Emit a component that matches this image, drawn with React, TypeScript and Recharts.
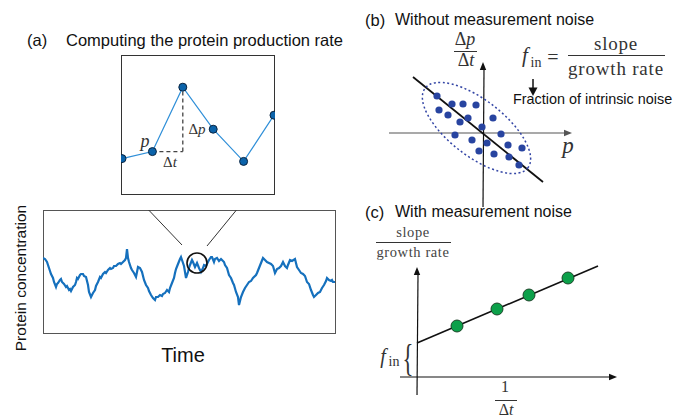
import { ComposedChart, Line, Scatter, XAxis, YAxis, ReferenceLine, ReferenceDot } from "recharts";

// (a) inset: sampled points of the trace
const insetTime = [0, 1, 2, 3, 4, 5];
const insetConc = [2.6, 3.1, 7.7, 4.7, 2.4, 5.7];

// (a) protein concentration trace [time, concentration]
const trace: [number, number][] = [
  [0, 75], [2, 74], [4, 71], [5, 68], [7, 62], [8, 59], [10, 55], [11, 51], [13, 46], [14, 49],
  [15, 50], [17, 53], [18, 54], [19, 51], [21, 49], [23, 46], [24, 47], [26, 43], [27, 44], [28, 42],
  [30, 46], [32, 48], [33, 51], [34, 55], [35, 54], [37, 58], [38, 59], [40, 59], [41, 57], [43, 56],
  [44, 52], [45, 48], [46, 41], [48, 36], [49, 38], [50, 40], [52, 43], [53, 47], [55, 51], [57, 56],
  [58, 55], [60, 59], [62, 61], [63, 60], [65, 63], [67, 65], [68, 64], [70, 65], [71, 67], [73, 67],
  [75, 69], [77, 70], [78, 69], [80, 71], [82, 73], [83, 75], [84, 84], [85, 75], [86, 71], [88, 65],
  [89, 63], [91, 60], [93, 56], [94, 61], [95, 66], [97, 65], [99, 61], [100, 57], [101, 53], [103, 48],
  [105, 45], [106, 42], [108, 38], [110, 35], [112, 33], [113, 36], [115, 36], [117, 38], [119, 37], [120, 39],
  [122, 40], [124, 43], [126, 41], [127, 45], [129, 50], [131, 55], [132, 60], [133, 64], [135, 69], [137, 74],
  [138, 76], [139, 73], [141, 67], [142, 61], [143, 55], [145, 61], [146, 65], [147, 68], [149, 73], [150, 71],
  [152, 66], [154, 70], [156, 65], [158, 61], [160, 65], [161, 68], [163, 67], [165, 71], [166, 73], [168, 76],
  [169, 76], [171, 71], [172, 74], [174, 75], [176, 72], [178, 74], [179, 73], [181, 71], [182, 68], [184, 65],
  [186, 58], [188, 55], [190, 50], [191, 48], [193, 41], [195, 36], [196, 28], [198, 36], [200, 41], [202, 45],
  [204, 48], [206, 51], [208, 52], [210, 55], [213, 58], [214, 60], [216, 65], [218, 70], [220, 75], [222, 73],
  [224, 71], [226, 70], [228, 69], [230, 67], [232, 60], [234, 64], [236, 65], [238, 67], [240, 71], [242, 67],
  [244, 65], [245, 68], [247, 73], [249, 72], [252, 74], [254, 66], [256, 63], [258, 60], [260, 59], [262, 57],
  [264, 51], [266, 49], [268, 43], [270, 38], [271, 36], [273, 38], [275, 40], [277, 41], [279, 45], [281, 48],
  [283, 52], [284, 55], [286, 53], [288, 52], [289, 53], [290, 51], [292, 51],
];
const zoomSpot = { t: 154, c: 70 };

// (b) p vs dp/dt without measurement noise
const bP = [-4.6, -3.1, -2.0, -0.7, -4.4, -3.5, -1.5, -2.3, 1.0, -0.1, -2.8, -1.1, 1.8, 0.4, 2.5, 3.9, -0.4, 1.1, 2.6, 3.6];
const bRate = [3.7, 2.9, 2.9, 2.8, 2.3, 1.8, 1.5, 1.1, 1.5, 0.6, -0.2, -0.7, -0.1, -1.0, -1.2, -1.5, -1.8, -2.1, -2.4, -3.2];
const bFit = [{ x: -7, y: 5.6 }, { x: 6, y: -4.9 }];
const bCloud = [{ x: -0.65, y: 0.5 }];

// (c) slope / growth rate vs 1/dt
const cInvDt = [4, 8, 11.2, 15.1];
const cRatio = [5.1, 6.8, 8.2, 9.9];
const cFit = [{ x: 0, y: 3.4 }, { x: 18.1, y: 11.1 }];

const insetData = insetTime.map((t, i) => ({ t, p: insetConc[i] }));
const traceData = trace.map(([t, c]) => ({ t, c }));
const bData = bP.map((x, i) => ({ x, y: bRate[i] }));
const cData = cInvDt.map((x, i) => ({ x, y: cRatio[i] }));

const SANS = "'Liberation Sans', Arial, Helvetica, sans-serif";
const SERIF = "'Liberation Serif', 'Times New Roman', serif";

const ArrowLine = (props: any) => {
  const { x1, y1, x2, y2, stroke, strokeWidth } = props;
  const a = Math.atan2(y2 - y1, x2 - x1);
  const len = 8;
  const w = 3.2;
  const bx = x2 - len * Math.cos(a);
  const by = y2 - len * Math.sin(a);
  const pts = `${x2},${y2} ${bx - w * Math.sin(a)},${by + w * Math.cos(a)} ${bx + w * Math.sin(a)},${by - w * Math.cos(a)}`;
  return (
    <g>
      <line x1={x1} y1={y1} x2={bx + 1} y2={by} stroke={stroke} strokeWidth={strokeWidth} />
      <polygon points={pts} fill={stroke} />
    </g>
  );
};

const Txt = ({ x, y, children, style, left }: any) => (
  <div
    style={{
      position: "absolute",
      left: x,
      top: y,
      transform: left ? "translate(0,-50%)" : "translate(-50%,-50%)",
      whiteSpace: "nowrap",
      lineHeight: 1,
      color: "#111",
      ...style,
    }}
  >
    {children}
  </div>
);

const Bar = ({ x1, x2, y }: any) => (
  <div style={{ position: "absolute", left: x1, top: y, width: x2 - x1, height: 1, background: "#333" }} />
);

export default function App() {
  return (
    <div style={{ position: "absolute", left: 0, top: 0, width: 695, height: 420, background: "#fff", fontFamily: SANS, overflow: "hidden" }}>
      {/* (a) titles */}
      <Txt x={27} y={40} left style={{ fontSize: 16.5 }}>(a)</Txt>
      <Txt x={66} y={40} left style={{ fontSize: 16.5 }}>Computing the protein production rate</Txt>

      {/* (a) inset */}
      <div style={{ position: "absolute", left: 121, top: 55, width: 154, height: 140, border: "1.2px solid #333", boxSizing: "border-box" }} />
      <div style={{ position: "absolute", left: 121, top: 55 }}>
        <ComposedChart width={154} height={140} data={insetData} margin={{ top: 0, right: 1, bottom: 0, left: 1 }}>
          <XAxis type="number" dataKey="t" domain={[0, 5]} hide />
          <YAxis type="number" domain={[0, 10]} hide />
          <ReferenceLine segment={[{ x: 1, y: 3.1 }, { x: 2, y: 3.1 }]} stroke="#444" strokeWidth={1.3} strokeDasharray="4 3" />
          <ReferenceLine segment={[{ x: 2, y: 3.1 }, { x: 2, y: 7.7 }]} stroke="#444" strokeWidth={1.3} strokeDasharray="4 3" />
          <Line
            dataKey="p"
            type="linear"
            stroke="#2f8fd8"
            strokeWidth={1.2}
            dot={{ r: 4, fill: "#0b63aa", stroke: "#0a2440", strokeWidth: 1 }}
            isAnimationActive={false}
          />
        </ComposedChart>
      </div>
      <Txt x={145} y={141} style={{ fontFamily: SERIF, fontStyle: "italic", fontSize: 18, color: "#333" }}>p</Txt>
      <Txt x={170} y={162} style={{ fontFamily: SERIF, fontSize: 15, color: "#333" }}>Δ<i>t</i></Txt>
      <Txt x={197} y={129} style={{ fontFamily: SERIF, fontSize: 15, color: "#333" }}>Δ<i>p</i></Txt>

      {/* (a) trace */}
      <div style={{ position: "absolute", left: 43, top: 210, width: 293, height: 124, border: "1px solid #555", boxSizing: "border-box" }} />
      <div style={{ position: "absolute", left: 43, top: 210 }}>
        <ComposedChart width={292} height={123} data={traceData} margin={{ top: 0, right: 0, bottom: 0, left: 0 }}>
          <XAxis type="number" dataKey="t" domain={[0, 292]} hide />
          <YAxis type="number" domain={[0, 123]} hide />
          <ReferenceLine segment={[{ x: 99, y: 130 }, { x: 139, y: 88 }]} stroke="#333" strokeWidth={1} ifOverflow="visible" />
          <ReferenceLine segment={[{ x: 200, y: 131 }, { x: 164, y: 87 }]} stroke="#333" strokeWidth={1} ifOverflow="visible" />
          <Line dataKey="c" type="linear" stroke="#1570bd" strokeWidth={2.2} dot={false} isAnimationActive={false} />
          <ReferenceDot x={zoomSpot.t} y={zoomSpot.c} r={10} fill="none" stroke="#111" strokeWidth={1.6} />
        </ComposedChart>
      </div>
      <Txt x={21} y={278} style={{ fontSize: 15.5, transform: "translate(-50%,-50%) rotate(-90deg)" }}>Protein concentration</Txt>
      <Txt x={183} y={355} style={{ fontSize: 20 }}>Time</Txt>

      {/* (b) */}
      <Txt x={365} y={20} left style={{ fontSize: 16.5 }}>(b)</Txt>
      <Txt x={395} y={20} left style={{ fontSize: 16 }}>Without measurement noise</Txt>
      <div style={{ position: "absolute", left: 383, top: 53 }}>
        <ComposedChart width={200} height={160} margin={{ top: 0, right: 0, bottom: 0, left: 0 }}>
          <XAxis type="number" dataKey="x" domain={[-10, 10]} hide />
          <YAxis type="number" dataKey="y" domain={[-8, 8]} hide />
          <ReferenceLine segment={[{ x: -9.4, y: 0 }, { x: 8.9, y: 0 }]} stroke="#555" strokeWidth={1.2} shape={ArrowLine} />
          <ReferenceLine segment={[{ x: 0, y: -7.4 }, { x: 0, y: 7.1 }]} stroke="#111" strokeWidth={1.2} shape={ArrowLine} />
          <Scatter
            data={bCloud}
            isAnimationActive={false}
            shape={(p: any) => (
              <ellipse cx={p.cx} cy={p.cy} rx={65} ry={28} transform={`rotate(37.8 ${p.cx} ${p.cy})`} fill="none" stroke="#3345a5" strokeWidth={1.5} strokeDasharray="2 2.5" />
            )}
          />
          <Scatter data={bData} isAnimationActive={false} shape={(p: any) => <circle cx={p.cx} cy={p.cy} r={3.6} fill="#2844a0" />} />
          <ReferenceLine segment={bFit} stroke="#111" strokeWidth={1.8} />
        </ComposedChart>
      </div>
      <Txt x={465} y={39} style={{ fontFamily: SERIF, fontSize: 18, color: "#333" }}>Δ<i>p</i></Txt>
      <Bar x1={454} x2={477} y={51} />
      <Txt x={466} y={60} style={{ fontFamily: SERIF, fontSize: 18, color: "#333" }}>Δ<i>t</i></Txt>
      <Txt x={525} y={55} style={{ fontFamily: SERIF, fontSize: 21, fontStyle: "italic", color: "#333" }}>f</Txt>
      <Txt x={536} y={63} style={{ fontFamily: SERIF, fontSize: 14, color: "#333" }}>in</Txt>
      <Txt x={553} y={57} style={{ fontFamily: SERIF, fontSize: 20, color: "#333" }}>=</Txt>
      <Txt x={616} y={43} style={{ fontFamily: SERIF, fontSize: 19, letterSpacing: 0.8, color: "#333" }}>slope</Txt>
      <Bar x1={568} x2={665} y={55} />
      <Txt x={616} y={68} style={{ fontFamily: SERIF, fontSize: 19, letterSpacing: 0.8, color: "#333" }}>growth rate</Txt>
      <svg style={{ position: "absolute", left: 526, top: 78 }} width={14} height={20}>
        <line x1={7} y1={1} x2={7} y2={11} stroke="#111" strokeWidth={1.5} />
        <polygon points="7,18 2.5,9.5 11.5,9.5" fill="#111" />
      </svg>
      <Txt x={513} y={99} left style={{ fontSize: 14.4 }}>Fraction of intrinsic noise</Txt>
      <Txt x={568} y={145} style={{ fontFamily: SERIF, fontSize: 23, fontStyle: "italic", color: "#333" }}>p</Txt>

      {/* (c) */}
      <Txt x={365} y={212} left style={{ fontSize: 16.5 }}>(c)</Txt>
      <Txt x={395} y={212} left style={{ fontSize: 16 }}>With measurement noise</Txt>
      <Txt x={413} y={232} style={{ fontFamily: SERIF, fontSize: 14.5, letterSpacing: 0.6, color: "#444" }}>slope</Txt>
      <Bar x1={376} x2={451} y={242} />
      <Txt x={413} y={252} style={{ fontFamily: SERIF, fontSize: 14.5, letterSpacing: 0.6, color: "#444" }}>growth rate</Txt>
      <div style={{ position: "absolute", left: 397, top: 257 }}>
        <ComposedChart width={220} height={140} margin={{ top: 0, right: 0, bottom: 0, left: 0 }}>
          <XAxis type="number" dataKey="x" domain={[-2, 20]} hide />
          <YAxis type="number" dataKey="y" domain={[-2, 12]} hide />
          <ReferenceLine segment={[{ x: -1.7, y: 0 }, { x: 20, y: 0 }]} stroke="#111" strokeWidth={1.2} shape={ArrowLine} />
          <ReferenceLine segment={[{ x: 0, y: -1.8 }, { x: 0, y: 11 }]} stroke="#111" strokeWidth={1.2} shape={ArrowLine} />
          <ReferenceLine segment={cFit} stroke="#111" strokeWidth={1.6} />
          <Scatter data={cData} isAnimationActive={false} shape={(p: any) => <circle cx={p.cx} cy={p.cy} r={6} fill="#0ca04a" stroke="#163a20" strokeWidth={0.9} />} />
        </ComposedChart>
      </div>
      <Txt x={383} y={356} style={{ fontFamily: SERIF, fontSize: 20, fontStyle: "italic", color: "#333" }}>f</Txt>
      <Txt x={394} y={362} style={{ fontFamily: SERIF, fontSize: 14, color: "#333" }}>in</Txt>
      <Txt x={408} y={358} style={{ fontFamily: SERIF, fontSize: 38, color: "#333", transform: "translate(-50%,-50%) scaleX(0.6)" }}>{"{"}</Txt>
      <Txt x={505} y={387} style={{ fontFamily: SERIF, fontSize: 16, color: "#333" }}>1</Txt>
      <Bar x1={495} x2={517} y={400} />
      <Txt x={506} y={410} style={{ fontFamily: SERIF, fontSize: 16, color: "#333" }}>Δ<i>t</i></Txt>
    </div>
  );
}
